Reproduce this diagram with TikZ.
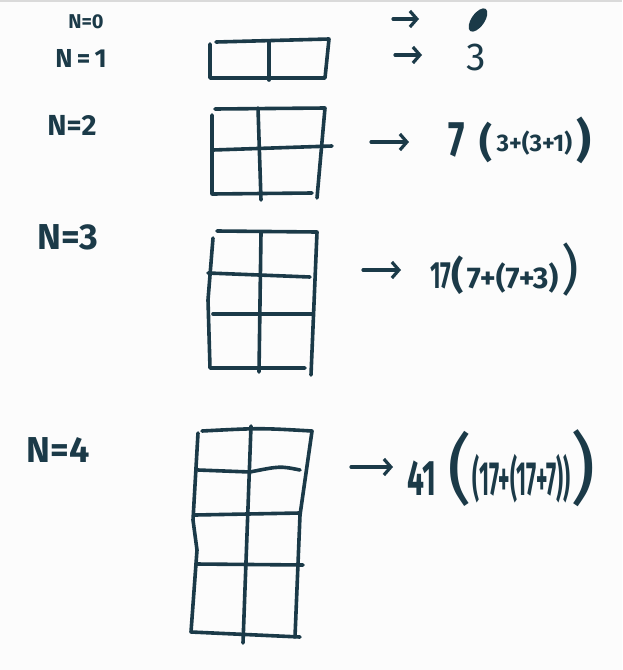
\documentclass[tikz,border=0pt]{standalone}
\usepackage{fontspec}
\setmainfont{Fira Sans}
\usepackage{graphicx}
\usetikzlibrary{arrows.meta,shapes.geometric}

\definecolor{ink}{RGB}{27,58,72}
\definecolor{paper}{RGB}{252,252,252}
\definecolor{strip}{RGB}{218,218,218}
\newcommand\sz[1]{\fontsize{#1}{#1}\selectfont}
\newcommand\narrow[2]{\scalebox{#1}[1]{#2}}

\tikzset{
  pen/.style={draw=ink, line width=3.6pt, line cap=round, line join=round},
  nlab/.style={text=ink, inner sep=0pt},
  result/.style={text=ink, inner sep=0pt, anchor=west},
  maps/.style={pen, line width=3.2pt, -{Straight Barb[length=7pt,width=16pt]}},
}

\begin{document}
\begin{tikzpicture}[x=1pt,y=-1pt]
  \useasboundingbox (0,0) rectangle (622,670);
  \fill[paper] (0,0) rectangle (622,670);
  \fill[strip] (0,0) rectangle (622,2);

  % sizes
  \node[nlab, font=\sz{20}\bfseries] (n0) at (86,22) {N=0};
  \node[nlab, font=\sz{26}\bfseries] (n1) at (81,58) {N\,=\,1};
  \node[nlab, font=\sz{29}\bfseries] (n2) at (72,125) {N=2};
  \node[nlab, font=\sz{36}\bfseries] (n3) at (68,237) {N=3};
  \node[nlab, font=\sz{36}\bfseries] (n4) at (58,450) {N=4};

  % N=1
  \draw[pen] (216,42) -- (329,39) -- (325,78) -- (210,78) -- (210,44);
  \draw[pen] (269,42) -- (269,80);
  % N=2
  \draw[pen] (215,109) -- (325,108) -- (317,198);
  \draw[pen] (212,115) -- (212,194) -- (312,193);
  \draw[pen] (213,150) -- (332,146);
  \draw[pen] (258,108) -- (261,200);
  % N=3
  \draw[pen] (217,231) -- (317,232) -- (311,375);
  \draw[pen] (213,238) -- (208,300) -- (210,368) -- (305,368);
  \draw[pen] (208,273) -- (310,277);
  \draw[pen] (213,314) -- (312,314);
  \draw[pen] (261,233) -- (259,372);
  % N=4
  \draw[pen] (202,431) .. controls (260,428) .. (312,431) -- (300,515) -- (295,637);
  \draw[pen] (198,433) -- (193,520) -- (197,550) -- (191,632) -- (300,637);
  \draw[pen] (198,470) -- (250,472) .. controls (280,466) .. (300,470);
  \draw[pen] (195,515) -- (300,513);
  \draw[pen] (196,564) -- (303,565);
  \draw[pen] (251,426) -- (243,643);

  % counts
  \node[ellipse, fill=ink, minimum width=13pt, minimum height=27pt, inner sep=0pt,
        rotate=-35] (r0) at (478,20) {};
  \node[result, font=\sz{39}] (r1) at (466,57) {3};
  \node[result, font=\bfseries] (r2) at (448,140)
    {\narrow{0.7}{\sz{50}7}\hspace{15pt}{\sz{40}(}\raisebox{5pt}{\sz{24}\,3+(3+1)\,}{\sz{46})}};
  \node[result, font=\bfseries] (r3) at (430,270)
    {\narrow{0.6}{\sz{38}17}{\sz{38}(}\hspace{3pt}{\sz{30}7+(7+3)}\hspace{3pt}{\sz{54}\mdseries)}};
  \node[result, font=\bfseries] (r4) at (407,468)
    {\narrow{0.6}{\sz{50}41}\hspace{12pt}{\sz{76}\mdseries(}\narrow{0.45}{\sz{48}(17+(17+7))}{\sz{78}\mdseries)}};

  \coordinate (t0) at (393,19);
  \coordinate (t1) at (395,55);
  \coordinate (t2) at (371,142);
  \coordinate (t3) at (363,270);
  \coordinate (t4) at (351,467);
  \draw[maps, shorten >=59pt] (t0) -- (r0.center |- t0);
  \draw[maps, shorten >=44pt] (t1) -- (r1.west |- t1);
  \draw[maps, shorten >=39pt] (t2) -- (r2.west |- t2);
  \draw[maps, shorten >=29pt] (t3) -- (r3.west |- t3);
  \draw[maps, shorten >=14pt] (t4) -- (r4.west |- t4);
\end{tikzpicture}
\end{document}
